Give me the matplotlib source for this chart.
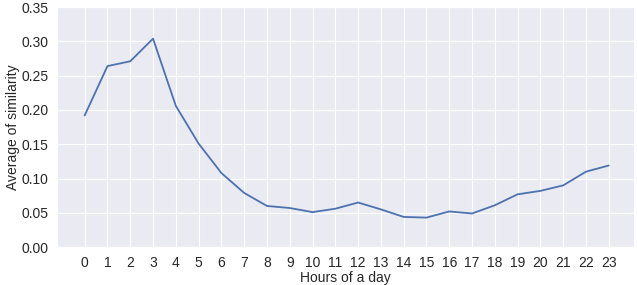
import matplotlib
matplotlib.use("Agg")
import matplotlib.pyplot as plt
import seaborn as sns

# average similarity per hour of the day
hours = list(range(24))
similarity = [0.192, 0.264, 0.271, 0.304, 0.206, 0.151, 0.108, 0.079,
              0.060, 0.057, 0.051, 0.056, 0.065, 0.055, 0.044, 0.043,
              0.052, 0.049, 0.061, 0.077, 0.082, 0.090, 0.110, 0.119]

sns.set_style("darkgrid")
plt.rcParams["font.family"] = ["Liberation Sans", "DejaVu Sans"]

fig, ax = plt.subplots(figsize=(6.37, 2.85), dpi=100)
ax.plot(hours, similarity, color="#4c72b0", linewidth=1.3)

ax.set_xticks(hours)
ax.set_xlim(-1.2, 24.1)
ax.set_ylim(0, 0.35)
ax.set_yticks([0.0, 0.05, 0.10, 0.15, 0.20, 0.25, 0.30, 0.35])
ax.set_yticklabels(["%.2f" % v for v in ax.get_yticks()])
ax.tick_params(labelsize=10, colors="#262626", pad=3)
ax.set_xlabel("Hours of a day", fontsize=10, color="#262626", labelpad=0.5)
ax.set_ylabel("Average of similarity", fontsize=10, color="#262626", labelpad=1)

fig.subplots_adjust(left=0.09, right=0.995, top=0.975, bottom=0.133)
fig.savefig("out.png", dpi=100)
